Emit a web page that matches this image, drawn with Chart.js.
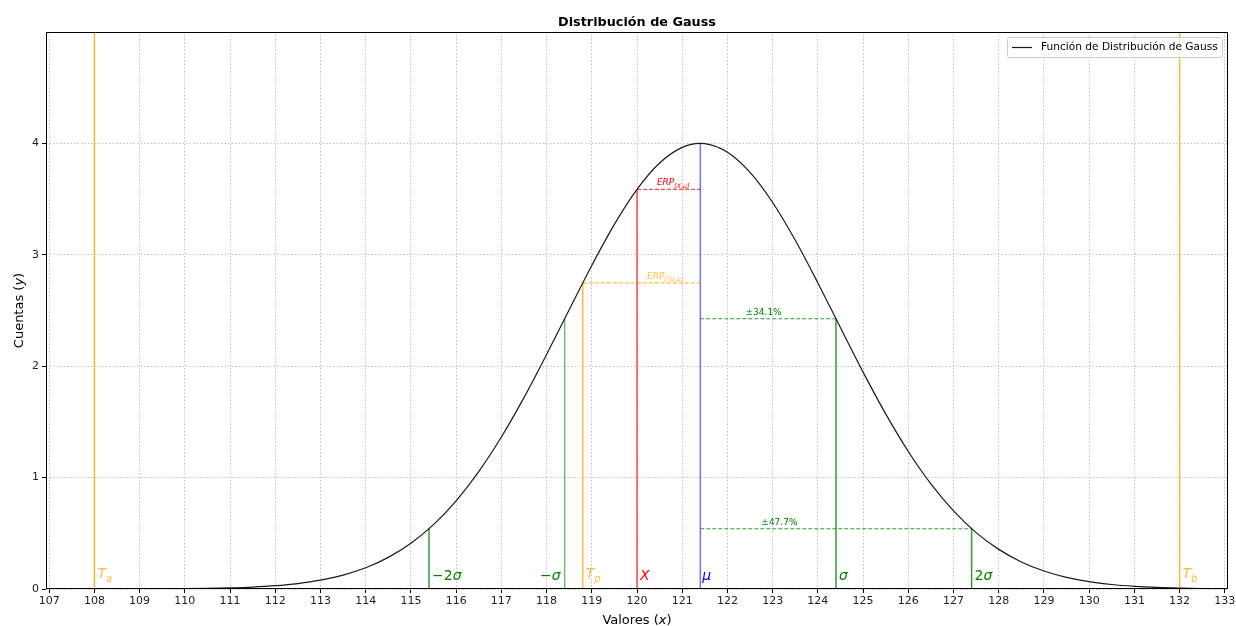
<!DOCTYPE html>
<html>
<head>
<meta charset="utf-8">
<script src="https://cdn.jsdelivr.net/npm/chart.js@4"></script>
<style>
  html, body { margin: 0; padding: 0; background: #fff; }
  #wrap { width: 1236px; height: 626px; position: relative; }
</style>
</head>
<body>
<div id="wrap"><canvas id="gauss"></canvas></div>
<script>
// curva de Gauss (muestras)
const curveX = [107, 107.5, 108, 108.5, 109, 109.5, 110, 110.5, 111, 111.5, 112, 112.5, 113, 113.5,
  114, 114.5, 115, 115.5, 116, 116.5, 117, 117.5, 118, 118.5, 119, 119.5, 120, 120.5, 121, 121.4,
  121.5, 122, 122.5, 123, 123.5, 124, 124.5, 125, 125.5, 126, 126.5, 127, 127.5, 128, 128.5,
  129, 129.5, 130, 130.5, 131, 131.5, 132, 132.5, 133];
const curveY = [0.0000, 0.0001, 0.0002, 0.0004, 0.0008, 0.0015, 0.0029, 0.0054, 0.0098, 0.0173,
  0.0295, 0.0491, 0.0794, 0.1249, 0.1909, 0.2840, 0.4110, 0.5783, 0.7916, 1.0538, 1.3644, 1.7182,
  2.1046, 2.5071, 2.9046, 3.2731, 3.5873, 3.8240, 3.9646, 4.0000, 3.9978, 3.9208, 3.7400, 3.4697,
  3.1308, 2.7477, 2.3453, 1.9470, 1.5721, 1.2346, 0.9430, 0.7005, 0.5061, 0.3557, 0.2431, 0.1616,
  0.1045, 0.0657, 0.0402, 0.0239, 0.0138, 0.0078, 0.0043, 0.0023];

const xTicks = [107, 108, 109, 110, 111, 112, 113, 114, 115, 116, 117, 118, 119, 120,
  121, 122, 123, 124, 125, 126, 127, 128, 129, 130, 131, 132, 133];
const yTicks = [0, 1, 2, 3, 4];

// media y altura máxima
const mu = 121.4;
const peak = 4.0;
// -2σ, -σ, σ, 2σ
const sigmaX = [115.4, 118.4, 124.4, 127.4];
const sigmaY = [0.541, 2.426, 2.426, 0.541];
const sigmaTxt = ['−2', '−', '', '2'];
// tolerancias Ta, Tb
const tolX = [108, 132];
const tolTxt = ['a', 'b'];
// valor Tp y medida X
const tpX = 118.8, tpY = 2.748;
const medX = 120.0, medY = 3.587;
const pctTxt = ['±34.1%', '±47.7%'];

const ORANGE = 'rgba(255,165,0,0.75)';
const RED = 'rgba(255,0,0,0.7)';
const BLUE = 'rgba(0,0,255,0.55)';
const GREEN = 'rgba(0,128,0,0.8)';
const GREEN_L = 'rgba(0,128,0,0.55)';
const FONT = '"DejaVu Sans", "Liberation Sans", sans-serif';

function seg(x1, y1, x2, y2, color, dash) {
  return {
    data: [{x: x1, y: y1}, {x: x2, y: y2}],
    borderColor: color, borderWidth: dash ? 1.2 : 1.5, borderDash: dash || [],
    pointRadius: 0, showLine: true, fill: false
  };
}

const datasets = [{
  label: 'Función de Distribución de Gauss',
  data: curveX.map((x, i) => ({x, y: curveY[i]})),
  borderColor: '#1a1a1a', borderWidth: 1.2, pointRadius: 0,
  showLine: true, fill: false, cubicInterpolationMode: 'monotone'
}];
tolX.forEach(x => datasets.push(seg(x, 0, x, 5, ORANGE)));
sigmaX.forEach((x, i) => datasets.push(seg(x, 0, x, sigmaY[i], i === 1 ? GREEN_L : GREEN)));
datasets.push(seg(tpX, 0, tpX, tpY, ORANGE));
datasets.push(seg(medX, 0, medX, medY, RED));
datasets.push(seg(medX, medY, mu, medY, RED, [4, 2]));
datasets.push(seg(tpX, tpY, mu, tpY, ORANGE, [4, 2]));
datasets.push(seg(mu, sigmaY[2], sigmaX[2], sigmaY[2], GREEN, [4, 2]));
datasets.push(seg(mu, sigmaY[3], sigmaX[3], sigmaY[3], GREEN, [4, 2]));
datasets.push(seg(mu, 0, mu, peak, BLUE));

// texto con cursiva y subíndices: [texto, cursiva, subíndice]
function rich(ctx, parts, x, y, size, color, align) {
  const f = p => (p[1] ? 'italic ' : '') + (p[2] ? size * 0.7 : size) + 'px ' + FONT;
  let w = 0;
  parts.forEach(p => { ctx.font = f(p); w += ctx.measureText(p[0]).width; });
  let cx = align === 'right' ? x - w : align === 'center' ? x - w / 2 : x;
  ctx.fillStyle = color;
  ctx.textAlign = 'left';
  ctx.textBaseline = 'alphabetic';
  parts.forEach(p => {
    ctx.font = f(p);
    ctx.fillText(p[0], cx, p[2] ? y + size * 0.28 : y);
    cx += ctx.measureText(p[0]).width;
  });
}

const decor = {
  id: 'decor',
  afterDatasetsDraw(chart) {
    const {ctx, chartArea: a, scales: {x: sx, y: sy}} = chart;
    const px = v => sx.getPixelForValue(v), py = v => sy.getPixelForValue(v);
    ctx.save();

    // marco
    ctx.strokeStyle = '#000';
    ctx.lineWidth = 1;
    ctx.strokeRect(Math.round(a.left) + 0.5, Math.round(a.top) + 0.5,
      Math.round(a.width) - 1, Math.round(a.height) - 1);

    // etiquetas junto a las líneas verticales
    const ly = py(0.08);
    tolX.forEach((x, i) => rich(ctx, [['T', 1], [tolTxt[i], 1, 1]], px(x) + 3, ly - 2, 14, ORANGE));
    sigmaX.forEach((x, i) => {
      const parts = sigmaTxt[i] ? [[sigmaTxt[i], 0], ['σ', 1]] : [['σ', 1]];
      if (i === 1) rich(ctx, parts, px(x) - 4, ly, 14, 'green', 'right');
      else rich(ctx, parts, px(x) + 3, ly, 14, 'green');
    });
    rich(ctx, [['T', 1], ['p', 1, 1]], px(tpX) + 3, ly - 2, 14, ORANGE);
    rich(ctx, [['X', 1]], px(medX) + 3, ly, 14, 'red');
    rich(ctx, [['μ', 1]], px(mu) + 2, ly, 14, 'blue');

    // etiquetas de las líneas horizontales
    rich(ctx, [['ERP', 1], ['[X,μ]', 1, 1]], px(120.44), py(medY) - 4, 9, 'red');
    rich(ctx, [['ERP', 1], ['[T', 1, 1], ['p', 1, 1], [',μ]', 1, 1]], px(120.22), py(tpY) - 4, 9, ORANGE);
    rich(ctx, [[pctTxt[0], 0]], px(122.4), py(sigmaY[2]) - 4, 9, 'green');
    rich(ctx, [[pctTxt[1], 0]], px(122.75), py(sigmaY[3]) - 4, 9, 'green');

    // leyenda
    const lw = 215, lh = 20;
    const lx = a.right - lw - 6, lt = a.top + 5;
    ctx.fillStyle = 'rgba(255,255,255,0.8)';
    ctx.strokeStyle = '#cccccc';
    ctx.beginPath();
    ctx.roundRect(lx + 0.5, lt + 0.5, lw, lh, 2);
    ctx.fill();
    ctx.stroke();
    ctx.strokeStyle = '#1a1a1a';
    ctx.lineWidth = 1.2;
    ctx.beginPath();
    ctx.moveTo(lx + 5, lt + 10.5);
    ctx.lineTo(lx + 25, lt + 10.5);
    ctx.stroke();
    ctx.fillStyle = '#000';
    ctx.font = '10.6px ' + FONT;
    ctx.textBaseline = 'middle';
    ctx.fillText(datasets[0].label, lx + 34, lt + 10.5);

    // título y títulos de ejes
    ctx.textAlign = 'center';
    ctx.textBaseline = 'alphabetic';
    ctx.font = 'bold 12.8px ' + FONT;
    ctx.fillText('Distribución de Gauss', (a.left + a.right) / 2, 26);
    rich(ctx, [['Valores (', 0], ['x', 1], [')', 0]], (a.left + a.right) / 2, 624, 13, '#000', 'center');
    ctx.translate(23, (a.top + a.bottom) / 2);
    ctx.rotate(-Math.PI / 2);
    rich(ctx, [['Cuentas (', 0], ['y', 1], [')', 0]], 0, 0, 13, '#000', 'center');
    ctx.restore();
  }
};

new Chart(document.getElementById('gauss'), {
  type: 'scatter',
  data: {datasets},
  options: {
    responsive: true,
    maintainAspectRatio: false,
    animation: false,
    layout: {padding: {top: 32, right: 8, left: 0, bottom: 0}},
    plugins: {legend: {display: false}, tooltip: {enabled: false}, title: {display: false}},
    scales: {
      x: {
        type: 'linear', min: 106.93, max: 133.07,
        afterBuildTicks: s => { s.ticks = xTicks.map(v => ({value: v})); },
        afterFit: s => { s.height = 37; s.paddingLeft = 0; s.paddingRight = 0; },
        ticks: {autoSkip: false, maxRotation: 0, padding: 2, color: '#222', font: {family: FONT, size: 11}},
        grid: {color: '#b0b0b0', lineWidth: 0.8, tickLength: 4, tickColor: '#000', tickWidth: 1, tickBorderDash: []},
        border: {display: false, dash: [1.5, 2]}
      },
      y: {
        type: 'linear', min: 0, max: 5,
        afterBuildTicks: s => { s.ticks = yTicks.map(v => ({value: v})); },
        afterFit: s => { s.width = 46; },
        ticks: {padding: 3, color: '#222', font: {family: FONT, size: 11}},
        grid: {color: '#b0b0b0', lineWidth: 0.8, tickLength: 4, tickColor: '#000', tickWidth: 1, tickBorderDash: []},
        border: {display: false, dash: [1.5, 2]}
      }
    }
  },
  plugins: [decor]
});
</script>
</body>
</html>
